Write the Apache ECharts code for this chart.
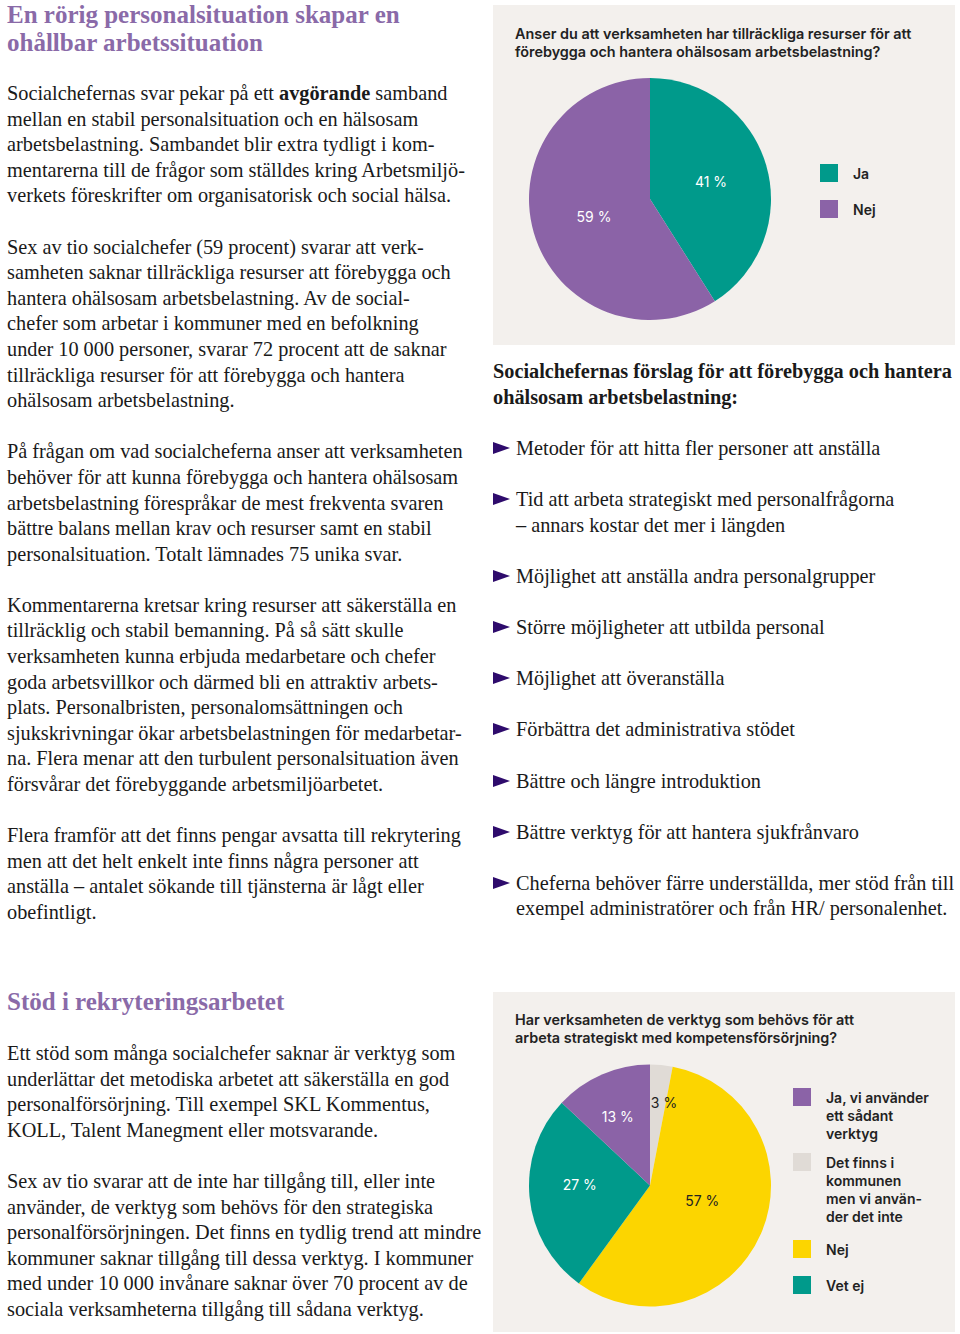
<!DOCTYPE html>
<html>
<head>
<meta charset="utf-8">
<script src="https://cdn.jsdelivr.net/npm/echarts@6/dist/echarts.min.js"></script>
<style>
  html, body { margin:0; padding:0; background:#ffffff; }
  body { width:960px; height:1334px; position:relative; overflow:hidden;
         font-family:'Liberation Serif', 'Times New Roman', serif; color:#1a1a1a; }
  .abs { position:absolute; }
  .h { font-weight:bold; font-size:25px; line-height:25px; height:25px; color:#8a6aa8; white-space:nowrap; }
  .txt { font-size:20.3px; line-height:25.6px; white-space:nowrap; }
  .txt p { margin:0 0 25.6px 0; }
  .txt p span { display:block; }
  .bl { position:relative; padding-left:23px; margin:0 0 25.6px 0; }
  .bl span { display:block; }
  .bl::before { content:''; position:absolute; left:0; top:6px; width:0; height:0;
     border-left:17px solid #2e0b6c; border-top:6px solid transparent; border-bottom:6px solid transparent; }
  .chart { position:absolute; left:493px; width:462px; height:340px; }
</style>
</head>
<body>
<div class="abs h" style="left:7px;top:2px;">En rörig personalsituation skapar en</div>
<div class="abs h" style="left:7px;top:29.5px;">ohållbar arbetssituation</div>

<div class="abs txt" style="left:7px;top:81px;">
<p><span>Socialchefernas svar pekar på ett <b>avgörande</b> samband</span><span>mellan en stabil personalsituation och en hälsosam</span><span>arbetsbelastning. Sambandet blir extra tydligt i kom-</span><span>mentarerna till de frågor som ställdes kring Arbetsmiljö-</span><span>verkets föreskrifter om organisatorisk och social hälsa.</span></p>
<p><span>Sex av tio socialchefer (59 procent) svarar att verk-</span><span>samheten saknar tillräckliga resurser att förebygga och</span><span>hantera ohälsosam arbetsbelastning. Av de social-</span><span>chefer som arbetar i kommuner med en befolkning</span><span>under 10 000 personer, svarar 72 procent att de saknar</span><span>tillräckliga resurser för att förebygga och hantera</span><span>ohälsosam arbetsbelastning.</span></p>
<p><span>På frågan om vad socialcheferna anser att verksamheten</span><span>behöver för att kunna förebygga och hantera ohälsosam</span><span>arbetsbelastning förespråkar de mest frekventa svaren</span><span>bättre balans mellan krav och resurser samt en stabil</span><span>personalsituation. Totalt lämnades 75 unika svar.</span></p>
<p><span>Kommentarerna kretsar kring resurser att säkerställa en</span><span>tillräcklig och stabil bemanning. På så sätt skulle</span><span>verksamheten kunna erbjuda medarbetare och chefer</span><span>goda arbetsvillkor och därmed bli en attraktiv arbets-</span><span>plats. Personalbristen, personalomsättningen och</span><span>sjukskrivningar ökar arbetsbelastningen för medarbetar-</span><span>na. Flera menar att den turbulent personalsituation även</span><span>försvårar det förebyggande arbetsmiljöarbetet.</span></p>
<p><span>Flera framför att det finns pengar avsatta till rekrytering</span><span>men att det helt enkelt inte finns några personer att</span><span>anställa – antalet sökande till tjänsterna är lågt eller</span><span>obefintligt.</span></p>
</div>

<div class="abs h" style="left:7px;top:989px;">Stöd i rekryteringsarbetet</div>
<div class="abs txt" style="left:7px;top:1041px;">
<p><span>Ett stöd som många socialchefer saknar är verktyg som</span><span>underlättar det metodiska arbetet att säkerställa en god</span><span>personalförsörjning. Till exempel SKL Kommentus,</span><span>KOLL, Talent Manegment eller motsvarande.</span></p>
<p><span>Sex av tio svarar att de inte har tillgång till, eller inte</span><span>använder, de verktyg som behövs för den strategiska</span><span>personalförsörjningen. Det finns en tydlig trend att mindre</span><span>kommuner saknar tillgång till dessa verktyg. I kommuner</span><span>med under 10 000 invånare saknar över 70 procent av de</span><span>sociala verksamheterna tillgång till sådana verktyg.</span></p>
</div>

<div class="abs txt" style="left:493px;top:359px;">
<p style="font-weight:bold;"><span>Socialchefernas förslag för att förebygga och hantera</span><span>ohälsosam arbetsbelastning:</span></p>
<div class="bl"><span>Metoder för att hitta fler personer att anställa</span></div>
<div class="bl"><span>Tid att arbeta strategiskt med personalfrågorna</span><span>– annars kostar det mer i längden</span></div>
<div class="bl"><span>Möjlighet att anställa andra personalgrupper</span></div>
<div class="bl"><span>Större möjligheter att utbilda personal</span></div>
<div class="bl"><span>Möjlighet att överanställa</span></div>
<div class="bl"><span>Förbättra det administrativa stödet</span></div>
<div class="bl"><span>Bättre och längre introduktion</span></div>
<div class="bl"><span>Bättre verktyg för att hantera sjukfrånvaro</span></div>
<div class="bl"><span>Cheferna behöver färre underställda, mer stöd från till</span><span>exempel administratörer och från HR/ personalenhet.</span></div>
</div>

<div id="c1" class="chart" style="top:5px;"></div>
<div id="c2" class="chart" style="top:992px;"></div>

<script>
// ---- Data ----
const chart1Title = 'Anser du att verksamheten har tillräckliga resurser för att\nförebygga och hantera ohälsosam arbetsbelastning?';
const chart1Categories = ['Ja', 'Nej'];
const chart1Values = [41, 59];

const chart2Title = 'Har verksamheten de verktyg som behövs för att\narbeta strategiskt med kompetensförsörjning?';
// clockwise from the top
const chart2Categories = ['Det finns i kommunen men vi använder det inte', 'Nej', 'Vet ej', 'Ja, vi använder ett sådant verktyg'];
const chart2Values = [3, 57, 27, 13];
const chart2LegendOrder = ['Ja, vi använder ett sådant verktyg', 'Det finns i kommunen men vi använder det inte', 'Nej', 'Vet ej'];
const chart2LegendLines = {
  'Ja, vi använder ett sådant verktyg': ['Ja, vi använder', 'ett sådant', 'verktyg'],
  'Det finns i kommunen men vi använder det inte': ['Det finns i', 'kommunen', 'men vi använ-', 'der det inte'],
  'Nej': ['Nej'],
  'Vet ej': ['Vet ej']
};

// ---- Styles ----
const BG = '#f3f0ed';
const TEAL = '#009a8b', PURPLE = '#8b63a7', YELLOW = '#fcd500', GRAY = '#e0dbd6';
const SANS = 'Inter, Roboto, sans-serif';
const INK = '#222222';

function titleOpt(text, top) {
  return { text: text, left: 22, top: top, padding: 0,
    textStyle: { fontFamily: SANS, fontSize: 14.4, fontWeight: 600, lineHeight: 18, color: INK } };
}
const legendText = { fontFamily: SANS, fontSize: 14, fontWeight: 600, lineHeight: 18, color: INK, padding: [0, 0, 0, 10] };

// ---- Chart 1 ----
const c1 = echarts.init(document.getElementById('c1'), null, { renderer: 'svg' });
const c1Colors = { 'Ja': TEAL, 'Nej': PURPLE };
const c1Nudge = [[0, 0], [5, 0]];
c1.setOption({
  backgroundColor: BG,
  animation: false,
  title: titleOpt(chart1Title, 19),
  legend: {
    orient: 'vertical', left: 327, top: 159, padding: 0, itemGap: 18,
    itemWidth: 18, itemHeight: 18, icon: 'rect', selectedMode: false,
    data: chart1Categories, textStyle: legendText
  },
  series: [{
    type: 'pie', center: [157, 194], radius: [0, 121], silent: true,
    startAngle: 90, clockwise: true,
    label: { position: 'inside', formatter: '{c} %', fontFamily: SANS, fontSize: 14, color: '#ffffff' },
    labelLine: { show: false },
    labelLayout: (params) => ({ dx: c1Nudge[params.dataIndex][0], dy: c1Nudge[params.dataIndex][1] }),
    itemStyle: { borderWidth: 0 },
    data: chart1Categories.map((n, i) => ({ name: n, value: chart1Values[i], itemStyle: { color: c1Colors[n] } }))
  }]
});

// ---- Chart 2 ----
const c2 = echarts.init(document.getElementById('c2'), null, { renderer: 'svg' });
const c2Colors = {
  'Ja, vi använder ett sådant verktyg': PURPLE,
  'Det finns i kommunen men vi använder det inte': GRAY,
  'Nej': YELLOW,
  'Vet ej': TEAL
};
const c2LabelColor = {
  'Ja, vi använder ett sådant verktyg': '#ffffff',
  'Det finns i kommunen men vi använder det inte': INK,
  'Nej': INK,
  'Vet ej': '#ffffff'
};
const c2IconTops = [96, 161, 248, 284];
// Multi-line legend texts are centred on the icon; leading blank lines push the
// first text line level with the icon.
const c2Legends = chart2LegendOrder.map((name, i) => {
  const lines = chart2LegendLines[name];
  const k = lines.length - 1;
  return {
    orient: 'vertical', left: 300, top: c2IconTops[i] - 18 * k, padding: 0,
    itemWidth: 18, itemHeight: 18, icon: 'rect', selectedMode: false,
    data: [name],
    textStyle: legendText,
    formatter: (nm) => '\n'.repeat(k) + chart2LegendLines[nm].join('\n')
  };
});
const c2Nudge = [[8, -20], [-6, -10], [-7, -7], [-7, -11]];
c2.setOption({
  backgroundColor: BG,
  animation: false,
  title: titleOpt(chart2Title, 18),
  legend: c2Legends,
  series: [{
    type: 'pie', center: [157, 193.5], radius: [0, 121], silent: true,
    startAngle: 90, clockwise: true,
    label: { position: 'inside', formatter: '{c} %', fontFamily: SANS, fontSize: 14 },
    labelLine: { show: false },
    labelLayout: (params) => ({ dx: c2Nudge[params.dataIndex][0], dy: c2Nudge[params.dataIndex][1] }),
    itemStyle: { borderWidth: 0 },
    data: chart2Categories.map((n, i) => ({
      name: n, value: chart2Values[i],
      itemStyle: { color: c2Colors[n] },
      label: { color: c2LabelColor[n] }
    }))
  }]
});
</script>
</body>
</html>
